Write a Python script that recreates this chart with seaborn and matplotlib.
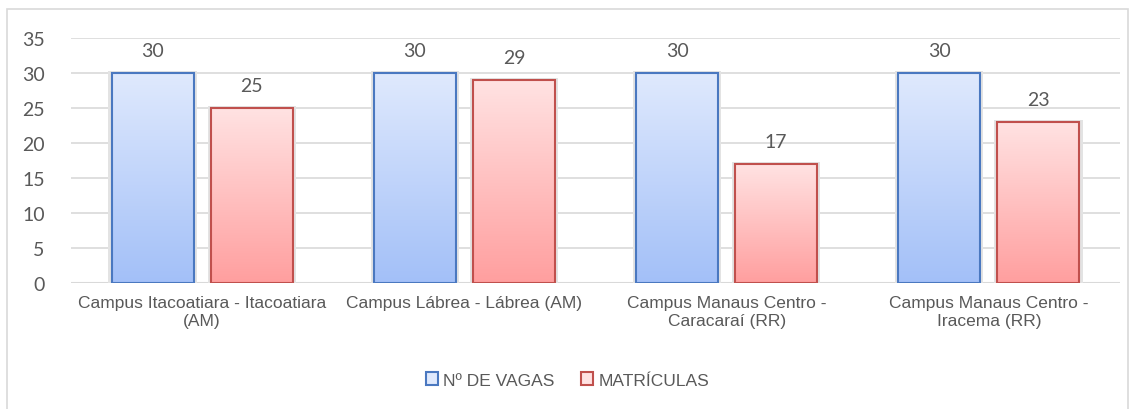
import numpy as np
import pandas as pd
import seaborn as sns
import matplotlib.pyplot as plt
from matplotlib.patches import Rectangle
from matplotlib.colors import LinearSegmentedColormap

campi = ['Campus Itacoatiara - Itacoatiara\n(AM)', 'Campus Lábrea - Lábrea (AM)',
         'Campus Manaus Centro -\nCaracaraí (RR)', 'Campus Manaus Centro -\nIracema (RR)']
vagas = [30, 30, 30, 30]
matriculas = [25, 29, 17, 23]
series = ['Nº DE VAGAS', 'MATRÍCULAS']

df = pd.DataFrame({
    'campus': campi * 2,
    'valor': vagas + matriculas,
    'serie': [series[0]] * 4 + [series[1]] * 4,
})

sns.set_style('white')
plt.rcParams['font.family'] = ['Liberation Sans Narrow', 'Liberation Sans', 'DejaVu Sans']
gray = '#595959'

fig = plt.figure(figsize=(11.35, 4.10), dpi=100)
ax = fig.add_axes([71 / 1135, 126 / 410, 1049 / 1135, 245 / 410])

edge = {series[0]: '#4a78c0', series[1]: '#c0504d'}
grad = {series[0]: ('#dfe9fd', '#a3c0f8'), series[1]: ('#ffe2e2', '#ff9f9f')}

sns.barplot(data=df, x='campus', y='valor', hue='serie', ax=ax, width=0.756, gap=0.172,
            palette=['#c3d5fa', '#ffc3c3'], legend=False, zorder=3)

for cont, s in zip(ax.containers, series):
    cmap = LinearSegmentedColormap.from_list(s, [grad[s][1], grad[s][0]])
    for bar in cont:
        x0, y0 = bar.get_x(), bar.get_y()
        w, h = bar.get_width(), bar.get_height()
        # light shadow behind bar
        ax.add_patch(Rectangle((x0 - 0.012, y0), w + 0.024, h + 0.25, color='#e3e3e3',
                               zorder=2, lw=0))
        img = ax.imshow(np.linspace(0, 1, 100).reshape(-1, 1), cmap=cmap, aspect='auto',
                        extent=(x0, x0 + w, 0, h), origin='lower', zorder=3)
        img.set_clip_path(bar)
        bar.set_facecolor('none')
        bar.set_edgecolor(edge[s])
        bar.set_linewidth(1.5)
        bar.set_zorder(4)
    ax.bar_label(cont, padding=10, fontsize=14, color=gray, family='Lato')

ax.set_xlim(-0.5, 3.5)
ax.set_ylim(0, 35)
ax.set_yticks(range(0, 36, 5))
ax.grid(axis='y', color='#d9d9d9', lw=1.2, zorder=0)
for sp in ax.spines.values():
    sp.set_visible(False)
ax.axhline(0, color='#d9d9d9', lw=1.5, zorder=1)
ax.set_xlabel('')
ax.set_ylabel('')
ax.tick_params(axis='y', length=0, pad=19, labelsize=14, labelcolor=gray)
ax.tick_params(axis='x', length=0, pad=9, labelsize=12.5, labelcolor=gray)
for t in ax.get_yticklabels():
    t.set_family('Lato')

handles = [Rectangle((0, 0), 1, 1, facecolor=grad[s][0], edgecolor=edge[s], lw=1.5) for s in series]
fig.legend(handles, series, loc='center', bbox_to_anchor=(0.5, 29 / 410), ncol=2, frameon=False,
           fontsize=12.5, labelcolor=gray, handlelength=0.7, handleheight=0.7, handletextpad=0.3,
           columnspacing=1.5)

fig.add_artist(Rectangle((7 / 1135, -2 / 410), 1121 / 1135, 402 / 410, transform=fig.transFigure,
                         fill=False, edgecolor='#d9d9d9', lw=1.2))

fig.savefig('out.png', dpi=100)
